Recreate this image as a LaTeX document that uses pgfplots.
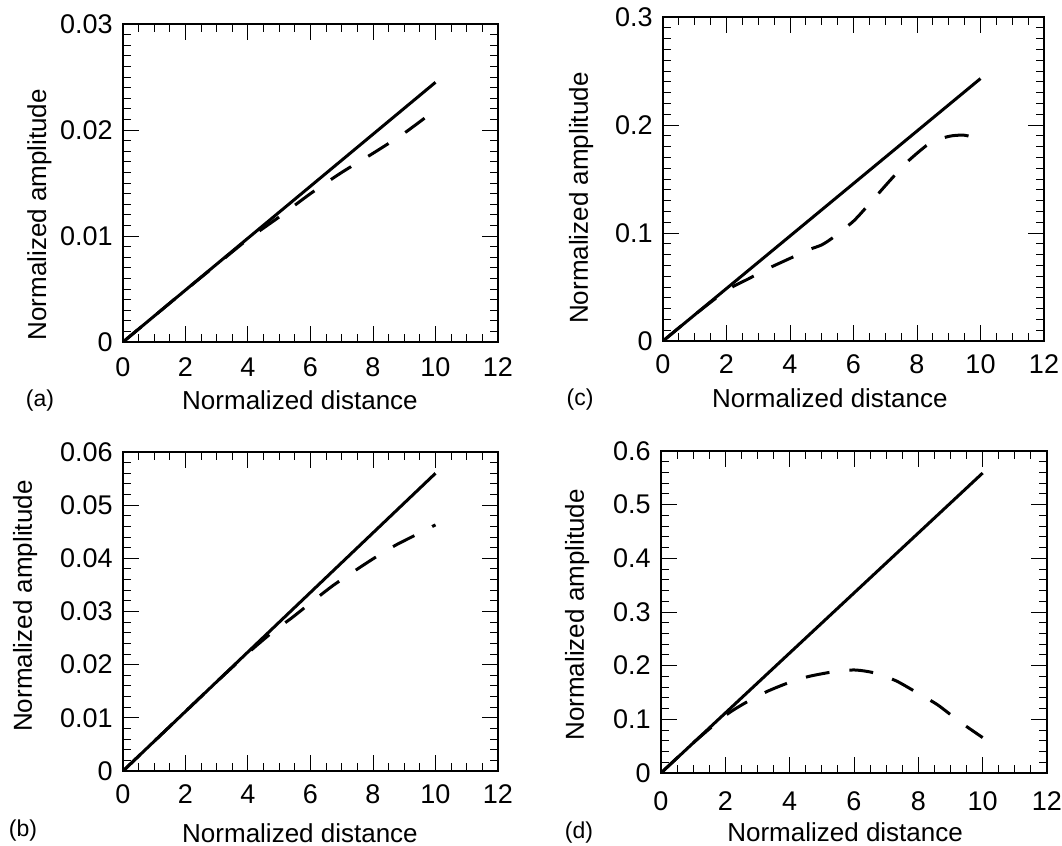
\documentclass[border=0pt]{standalone}
\usepackage{fontspec}
\setmainfont{Liberation Sans}
\usepackage{pgfplots}
\pgfplotsset{compat=1.18}

\pgfplotsset{
  panel/.style={
    scale only axis, anchor=south west,
    xmin=0, xmax=12, xtick={0,2,4,6,8,10,12}, minor x tick num=3,
    ymin=0,
    tick pos=both, tick align=inside,
    major tick length=8pt, minor tick length=4pt,
    every tick/.style={black, line width=0.5pt},
    axis line style={line width=0.8pt},
    /pgf/number format/assume math mode=true,
    tick label style={font=\fontsize{13.5}{15}\selectfont},
    label style={font=\fontsize{13}{14}\selectfont},
    yticklabel style={anchor=east, inner sep=0pt, xshift=-5pt,
      /pgf/number format/fixed, /pgf/number format/precision=2},
    scaled y ticks=false,
    xlabel={Normalized distance}, ylabel={Normalized amplitude},
  },
  solidc/.style={black, line width=1.5pt, no marks},
  dashc/.style={black, line width=1.5pt, no marks, smooth, tension=0.4, dash pattern=on 12pt off 10pt},
}

\begin{document}
\begin{tikzpicture}
\path[use as bounding box] (0,0) rectangle (531pt,-423pt);

% (a)
\begin{axis}[panel, at={(61.5pt,-171pt)}, width=187.5pt, height=159pt,
  ymax=0.03, ytick={0,0.01,0.02,0.03}, minor y tick num=9,
  xticklabel style={anchor=base, inner sep=0pt, yshift=-17pt},
  xlabel style={at={(axis description cs:0.472,-0.2107)}, anchor=base},
  ylabel style={at={(axis description cs:-0.205,0.40)}, anchor=base}]
\addplot[solidc] coordinates {(0,0) (10,0.0245)};
\addplot[dashc] coordinates {(0,0) (1,0.00245) (2,0.0049) (3,0.0073) (4,0.0097) (5,0.0118) (6,0.0140) (7,0.0160) (8,0.0178) (9,0.0197) (10,0.0219)};
\end{axis}

% (c)
\begin{axis}[panel, at={(331.5pt,-170.5pt)}, width=190.5pt, height=162pt,
  ymax=0.3, ytick={0,0.1,0.2,0.3}, minor y tick num=9,
  xticklabel style={anchor=base, inner sep=0pt, yshift=-16pt},
  xlabel style={at={(axis description cs:0.438,-0.2037)}, anchor=base},
  ylabel style={at={(axis description cs:-0.197,0.441)}, anchor=base}]
\addplot[solidc] coordinates {(0,0) (10,0.243)};
\addplot[dashc] coordinates {(0,0) (1,0.0243) (2,0.0469) (2.7,0.0577) (3.3,0.067) (4,0.0765) (4.6,0.0846) (5,0.089) (5.35,0.0957) (6,0.111) (6.5,0.127) (7.1,0.147) (7.7,0.166) (8.3,0.181) (8.7,0.187) (9.1,0.190) (9.5,0.1905) (10,0.187)};
\end{axis}

% (b)
\begin{axis}[panel, at={(61.5pt,-385.5pt)}, width=187.5pt, height=159.5pt,
  ymax=0.06, ytick={0,0.01,0.02,0.03,0.04,0.05,0.06}, minor y tick num=4,
  xticklabel style={anchor=base, inner sep=0pt, yshift=-16pt},
  xlabel style={at={(axis description cs:0.472,-0.2257)}, anchor=base},
  ylabel style={at={(axis description cs:-0.243,0.517)}, anchor=base}]
\addplot[solidc] coordinates {(0,0) (10,0.056)};
\addplot[dashc] coordinates {(0,0) (1,0.0056) (2,0.0112) (3,0.0168) (4,0.0222) (4.8,0.0262) (5.4,0.0288) (6,0.0316) (6.7,0.0348) (7.35,0.0374) (8,0.0399) (8.7,0.0424) (9.4,0.0445) (10,0.0463)};
\end{axis}

% (d)
\begin{axis}[panel, at={(330.5pt,-386.5pt)}, width=193pt, height=161pt,
  ymax=0.6, ytick={0,0.1,0.2,0.3,0.4,0.5,0.6}, minor y tick num=4,
  xticklabel style={anchor=base, inner sep=0pt, yshift=-18.5pt},
  xlabel style={at={(axis description cs:0.477,-0.2112)}, anchor=base},
  ylabel style={at={(axis description cs:-0.1995,0.491)}, anchor=base}]
\addplot[solidc] coordinates {(0,0) (10,0.559)};
\addplot[dashc] coordinates {(0,0) (1,0.056) (2,0.107) (2.6,0.130) (3.3,0.152) (4,0.169) (4.6,0.180) (5.3,0.188) (6,0.192) (6.6,0.187) (7.3,0.172) (7.95,0.150) (8.6,0.127) (9.3,0.095) (10,0.066)};
\end{axis}

\node[font=\fontsize{11.5}{12}\selectfont, anchor=base] at (20pt,-203pt) {(a)};
\node[font=\fontsize{11.5}{12}\selectfont, anchor=base] at (290pt,-202.5pt) {(c)};
\node[font=\fontsize{11.5}{12}\selectfont, anchor=base] at (11.5pt,-418pt) {(b)};
\node[font=\fontsize{11.5}{12}\selectfont, anchor=base] at (289.5pt,-419pt) {(d)};
\end{tikzpicture}
\end{document}
